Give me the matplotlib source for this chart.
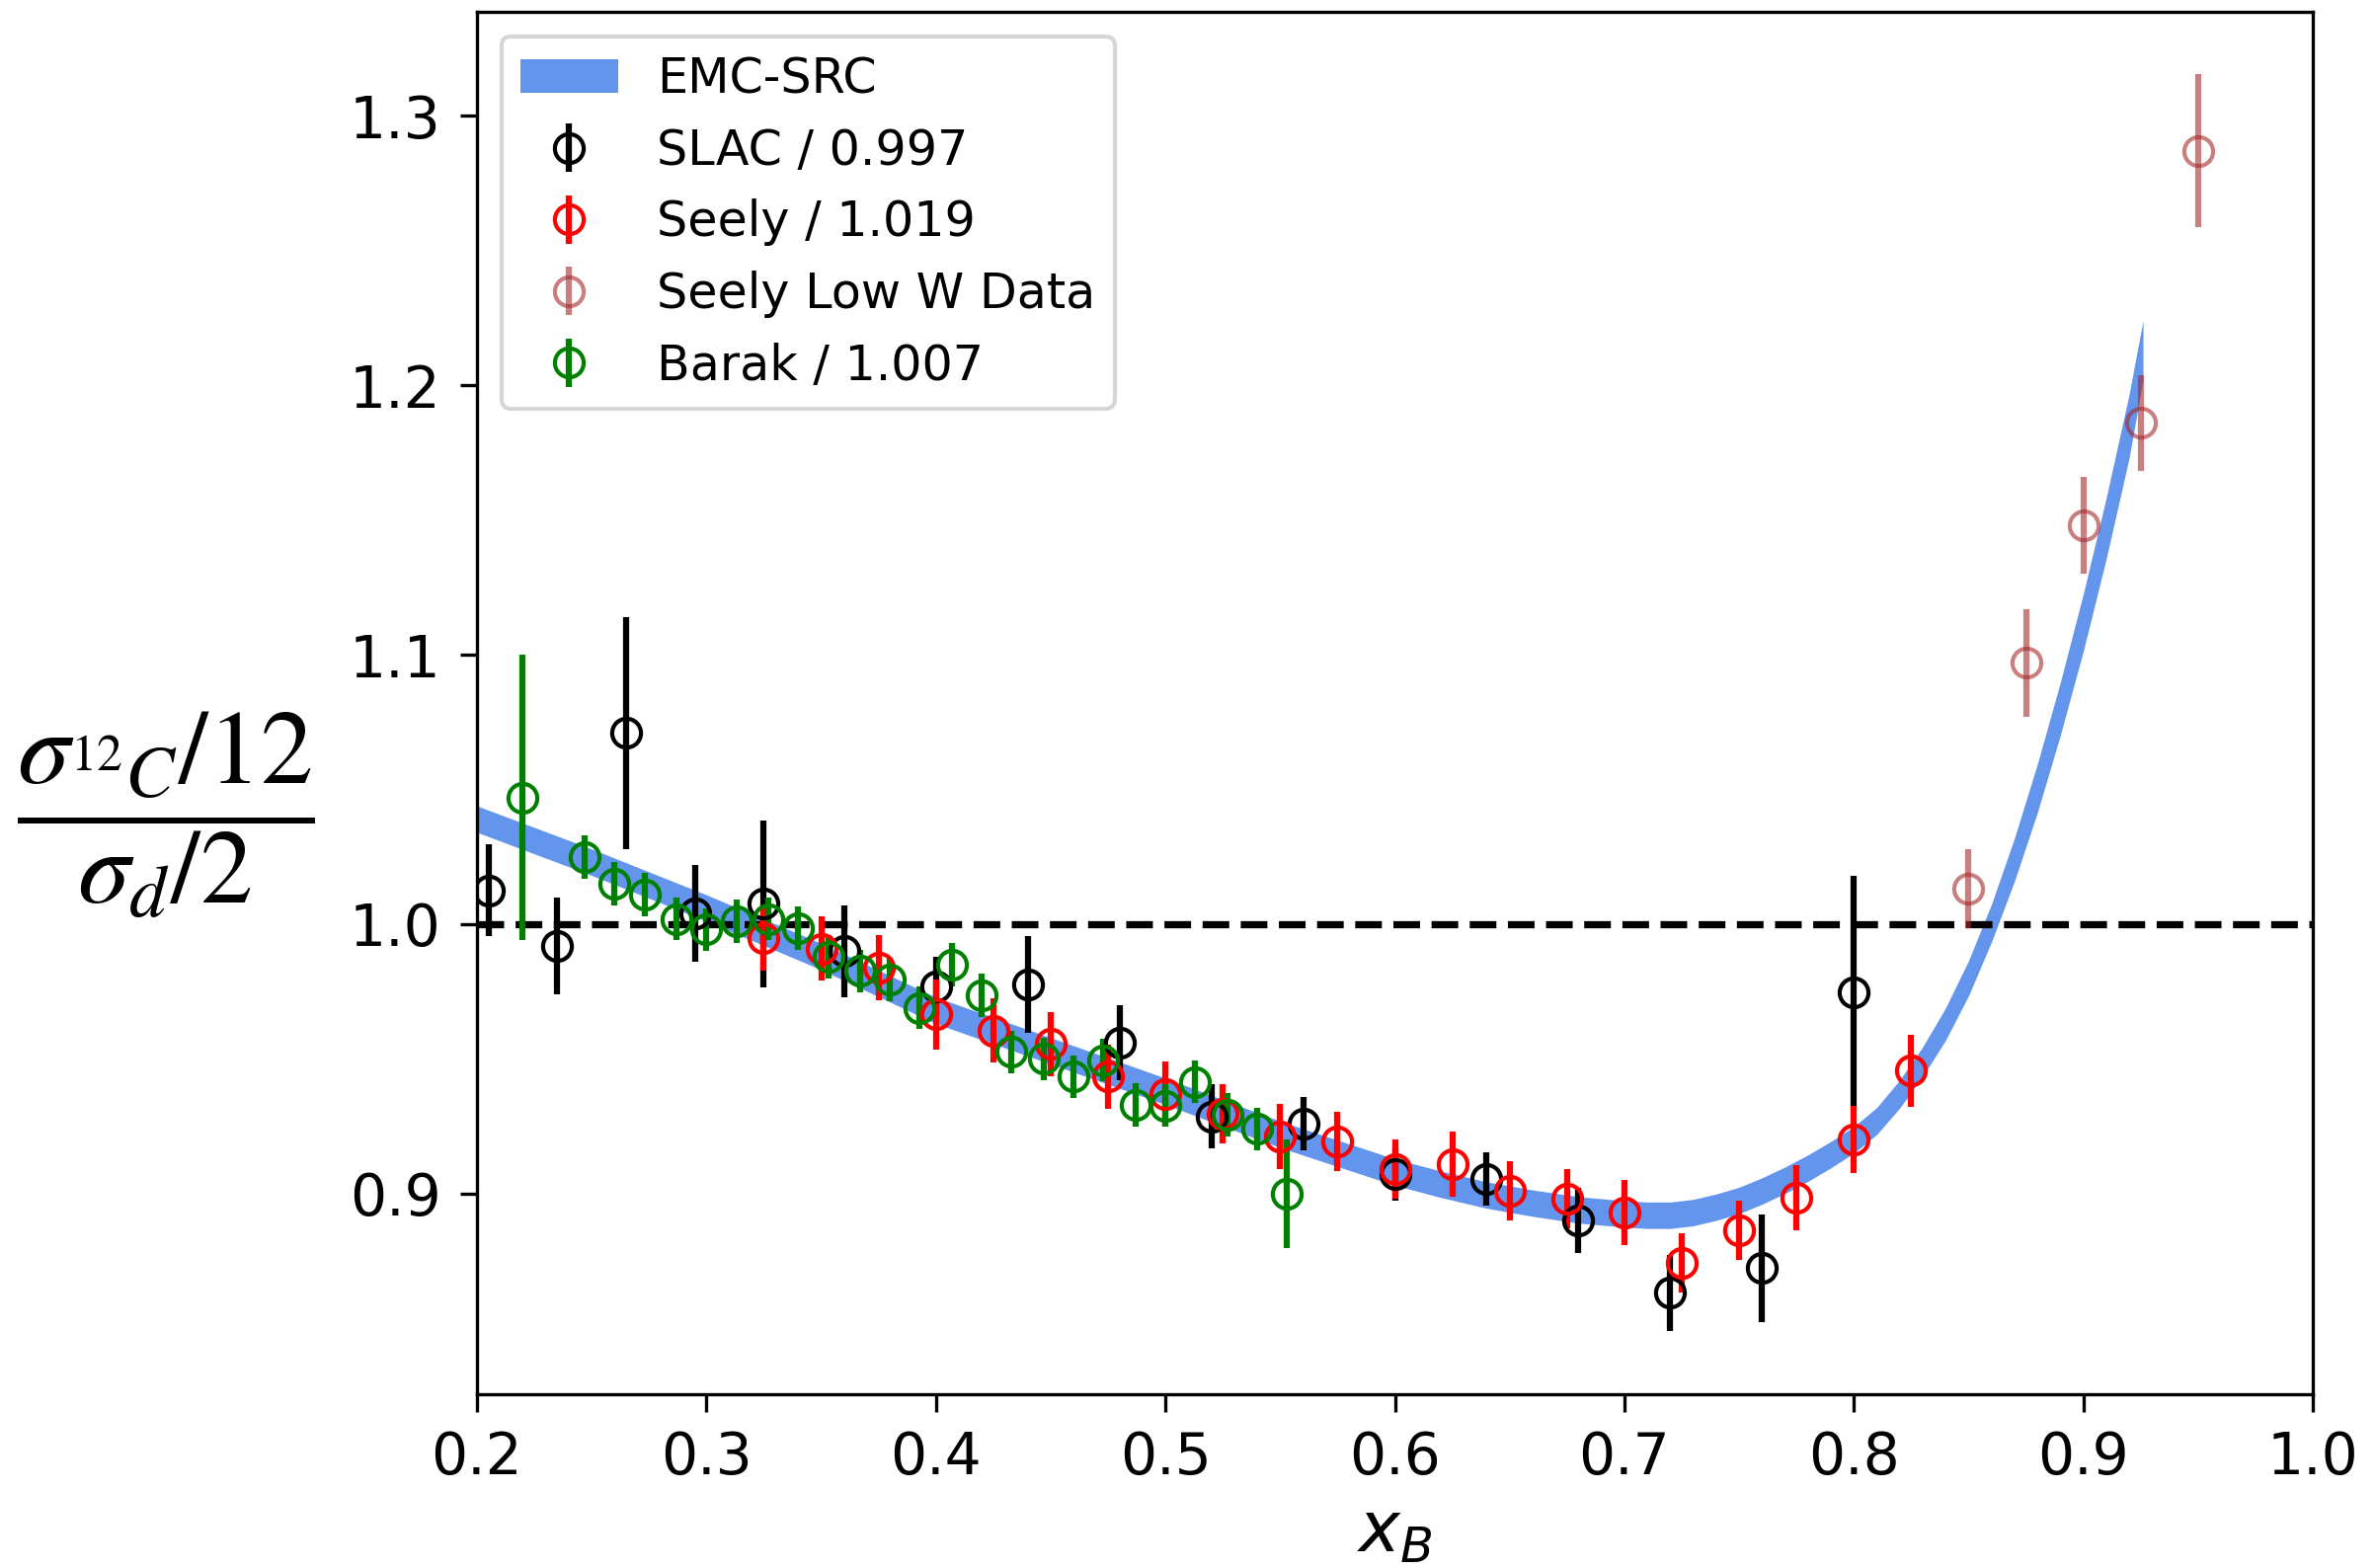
import matplotlib
matplotlib.use('Agg')
import matplotlib.pyplot as plt
import numpy as np

# ---------------- data ----------------
# EMC-SRC band (centre and half-width)
band_x = [0.20, 0.25, 0.30, 0.35, 0.40, 0.45, 0.50, 0.55, 0.60, 0.62, 0.64, 0.66,
          0.68, 0.70, 0.71, 0.72, 0.73, 0.74, 0.75, 0.76, 0.77, 0.78, 0.79, 0.80,
          0.81, 0.82, 0.83, 0.84, 0.85, 0.86, 0.87, 0.88, 0.89, 0.90, 0.91, 0.92, 0.926]
band_center = [1.039, 1.023, 1.006, 0.988, 0.968, 0.953, 0.938, 0.922, 0.908, 0.9035,
               0.8995, 0.8965, 0.894, 0.8925, 0.892, 0.892, 0.893, 0.895, 0.8975, 0.901,
               0.905, 0.9095, 0.9145, 0.920, 0.927, 0.937, 0.949, 0.963, 0.980, 1.0005,
               1.024, 1.0505, 1.080, 1.112, 1.147, 1.185, 1.213]
band_halfwidth = [0.0049, 0.0049, 0.0049, 0.0049, 0.0049, 0.0049, 0.0049, 0.0049, 0.0049,
                  0.0049, 0.0049, 0.0049, 0.0049, 0.0049, 0.0049, 0.0049, 0.0049, 0.0049,
                  0.0049, 0.0049, 0.0049, 0.0049, 0.0049, 0.0049, 0.0050, 0.0052, 0.0055,
                  0.0060, 0.0065, 0.0070, 0.0080, 0.0090, 0.0098, 0.0106, 0.0113, 0.0118,
                  0.0110]

slac_x = [0.205, 0.235, 0.265, 0.295, 0.325, 0.36, 0.40, 0.44, 0.48, 0.52, 0.56, 0.60,
          0.64, 0.68, 0.72, 0.76, 0.80]
slac_y = [1.0125, 0.992, 1.071, 1.004, 1.0075, 0.990, 0.977, 0.9776, 0.956, 0.9287,
          0.926, 0.9073, 0.9055, 0.890, 0.8632, 0.8724, 0.9746]
slac_err = [0.017, 0.018, 0.043, 0.018, 0.031, 0.017, 0.011, 0.018, 0.014, 0.012,
            0.010, 0.010, 0.010, 0.012, 0.014, 0.020, 0.0435]

seely_x = [0.325, 0.35, 0.375, 0.40, 0.425, 0.45, 0.475, 0.50, 0.525, 0.55, 0.575,
           0.60, 0.625, 0.65, 0.675, 0.70, 0.725, 0.75, 0.775, 0.80, 0.825]
seely_y = [0.9948, 0.991, 0.9838, 0.9666, 0.9606, 0.9555, 0.9434, 0.937, 0.9298, 0.9213,
           0.9195, 0.909, 0.911, 0.901, 0.898, 0.893, 0.8743, 0.8864, 0.8985, 0.920, 0.9456]
seely_err = [0.012, 0.012, 0.012, 0.013, 0.012, 0.012, 0.012, 0.012, 0.011, 0.012,
             0.011, 0.011, 0.012, 0.011, 0.011, 0.012, 0.011, 0.011, 0.012, 0.0125, 0.0134]

lowW_x = [0.85, 0.875, 0.90, 0.925, 0.95]
lowW_y = [1.0132, 1.097, 1.148, 1.186, 1.287]
lowW_err = [0.0145, 0.020, 0.018, 0.0177, 0.0285]

barak_x = [0.220, 0.247, 0.260, 0.273, 0.287, 0.300, 0.313, 0.327, 0.340, 0.353, 0.367,
           0.380, 0.393, 0.407, 0.420, 0.433, 0.447, 0.460, 0.473, 0.487, 0.500, 0.513,
           0.527, 0.540, 0.553]
barak_y = [1.047, 1.025, 1.015, 1.011, 1.002, 0.998, 1.001, 1.002, 0.9985, 0.988, 0.9826,
           0.9795, 0.969, 0.985, 0.9735, 0.9526, 0.950, 0.9434, 0.9496, 0.933, 0.9327,
           0.9415, 0.9294, 0.924, 0.900]
barak_err = [0.053, 0.008, 0.008, 0.008, 0.008, 0.008, 0.008, 0.008, 0.008, 0.008, 0.008,
             0.008, 0.008, 0.008, 0.008, 0.008, 0.008, 0.008, 0.008, 0.008, 0.008, 0.008,
             0.008, 0.008, 0.020]

x_ticks = [0.2, 0.3, 0.4, 0.5, 0.6, 0.7, 0.8, 0.9, 1.0]
x_ticklabels = ['0.2', '0.3', '0.4', '0.5', '0.6', '0.7', '0.8', '0.9', '1.0']
y_ticks = [0.9, 1.0, 1.1, 1.2, 1.3]
y_ticklabels = ['0.9', '1.0', '1.1', '1.2', '1.3']

# ---------------- plot ----------------
W, H = 2406, 1588
fig = plt.figure(figsize=(W / 300, H / 300), dpi=300)
ax = fig.add_axes([483 / W, (H - 1412) / H, (2342 - 483) / W, (1412 - 12) / H])

bc = np.array(band_center)
bw = np.array(band_halfwidth)
ax.fill_between(band_x, bc - bw, bc + bw, color='cornflowerblue', linewidth=0,
                label='EMC-SRC', zorder=1)
ax.axhline(1.0, color='black', ls='--', lw=1.75, zorder=2)

kw = dict(fmt='o', mfc='none', ms=7, mew=1.0, elinewidth=1.5, zorder=3)
ax.errorbar(slac_x, slac_y, yerr=slac_err, color='black', label='SLAC / 0.997', **kw)
ax.errorbar(seely_x, seely_y, yerr=seely_err, color='red', label='Seely / 1.019', **kw)
ax.errorbar(lowW_x, lowW_y, yerr=lowW_err, color='brown', alpha=0.6,
            label='Seely Low W Data', **kw)
ax.errorbar(barak_x, barak_y, yerr=barak_err, color='green', label='Barak / 1.007', **kw)

ax.set_xlim(0.2, 1.0)
ax.set_ylim(0.8256, 1.3385)
ax.set_xticks(x_ticks)
ax.set_xticklabels(x_ticklabels)
ax.set_yticks(y_ticks)
ax.set_yticklabels(y_ticklabels)
ax.tick_params(labelsize=14, length=4.2, width=0.8, pad=4.5)

ax.set_xlabel(r'$x_B$', fontsize=17, labelpad=3)
ax.set_ylabel(r'$\dfrac{\sigma_{{}^{12}C}/12}{\sigma_d/2}$', rotation=0, fontsize=25.5,
              math_fontfamily='stix', ha='center', va='center')
ax.yaxis.set_label_coords((168 - 483) / (2342 - 483), (1412 - 826) / 1400)

ax.legend(loc='upper left', fontsize=11.8)

fig.savefig('out.png', dpi=300)
